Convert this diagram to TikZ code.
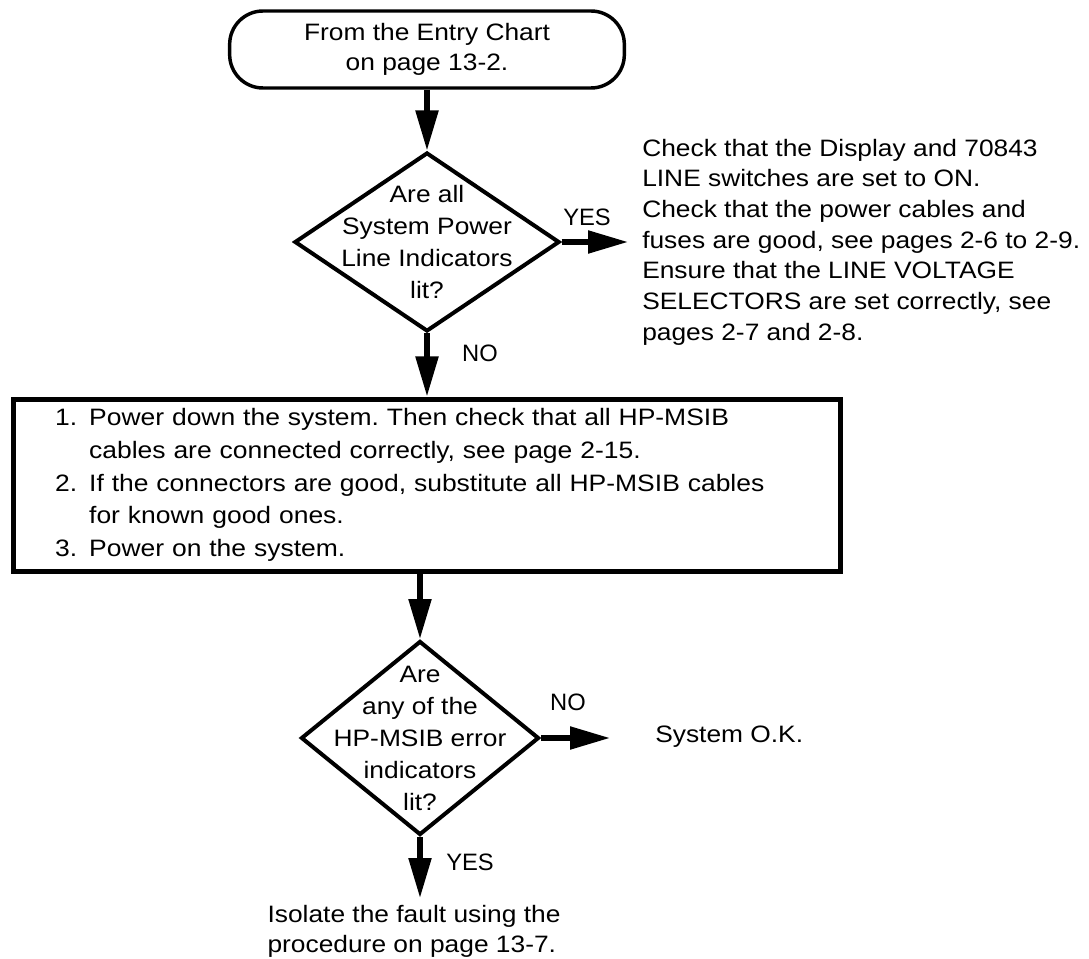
\documentclass[tikz,border=0pt]{standalone}
\usepackage{fontspec}
\setmainfont{Liberation Sans}
\newfontfamily\widefont[FakeStretch=1.11]{Liberation Sans}
\newfontfamily\stepfont[FakeStretch=1.115]{Liberation Sans}
\usetikzlibrary{arrows.meta,shapes.geometric,positioning}
\frenchspacing
\newcommand{\chartfont}{\fontsize{17.8pt}{23pt}\selectfont}
\tikzset{
    terminal/.style={
        rectangle,
        draw=black,
        line width=2.6pt,
        rounded corners=25pt,
        minimum width=296pt,
        minimum height=57.75pt,
        align=center,
        font=\widefont\fontsize{17.8pt}{22.5pt}\selectfont
    },
    decision/.style={
        diamond,
        draw=black,
        line width=3pt,
        inner sep=0pt
    },
    question/.style={
        align=center,
        inner sep=0pt,
        font=\widefont\fontsize{17.8pt}{24pt}\selectfont
    },
    stepbox/.style={
        rectangle,
        draw=black,
        line width=3.75pt,
        minimum width=620.25pt,
        minimum height=129pt,
        text width=557pt,
        align=left,
        font=\stepfont\fontsize{17.8pt}{24.5pt}\selectfont
    },
    note/.style={
        align=left,
        inner xsep=0pt,
        inner ysep=0pt,
        font=\widefont\chartfont
    },
    tag/.style={
        inner sep=0pt,
        font=\chartfont
    },
    flow/.style={
        -{Triangle[length=30pt,width=16.5pt]},
        line width=4pt
    }
}

\begin{document}
\begin{tikzpicture}[x=0.75pt,y=-0.75pt]
\useasboundingbox (0,0) rectangle (1089,959);

% Start
\node[terminal] (start) at (427,49.5) {From the Entry Chart\\on page 13-2.};

% Power line indicators
\node[decision, minimum width=198.75pt, minimum height=134.25pt] (q1) at (427,242) {};
\node[question] (q1-text) at (q1) {Are all\\System Power\\Line Indicators\\lit?};
\node[note, anchor=west, inner xsep=10.5pt] (checks) at (628,242) {%
    Check that the Display and 70843\\
    LINE switches are set to ON.\\
    Check that the power cables and\\
    fuses are good, see pages 2-6 to 2-9.\\
    Ensure that the LINE VOLTAGE\\
    SELECTORS are set correctly, see\\
    pages 2-7 and 2-8.};
\node[tag] (yes1) at (587,217) {YES};
\node[tag] (no1) at (480,353) {NO};

% Cable checks
\node[stepbox] (steps) at (426.5,485) {%
    \makebox[25.5pt][l]{1.}Power down the system. Then check that all HP-MSIB\\
    \hspace*{25.5pt}cables are connected correctly, see page 2-15.\\
    \makebox[25.5pt][l]{2.}If the connectors are good, substitute all HP-MSIB cables\\
    \hspace*{25.5pt}for known good ones.\\
    \makebox[25.5pt][l]{3.}Power on the system.};

% Error indicators
\node[decision, minimum width=178.5pt, minimum height=145.5pt] (q2) at (420,738) {};
\node[question] (q2-text) at (q2) {Are\\any of the\\HP-MSIB error\\indicators\\lit?};
\node[note, anchor=base west, inner xsep=33.75pt] (ok) at (610,742) {System O.K.};
\node[note, anchor=north, inner ysep=5pt] (isolate) at (414,898) {Isolate the fault using the\\procedure on page 13-7.};
\node[tag] (no2) at (568,702) {NO};
\node[tag] (yes2) at (470,862) {YES};

\draw[flow] (start) -- (q1);
\draw[flow] (q1.east) -- (q1.east -| checks.west);
\draw[flow] (q1.south) -- (q1.south |- steps.north);
\draw[flow] (steps.south -| q2.north) -- (q2.north);
\draw[flow] (q2.east) -- (q2.east -| ok.west);
\draw[flow] (q2.south) -- (q2.south |- isolate.north);
\end{tikzpicture}
\end{document}
